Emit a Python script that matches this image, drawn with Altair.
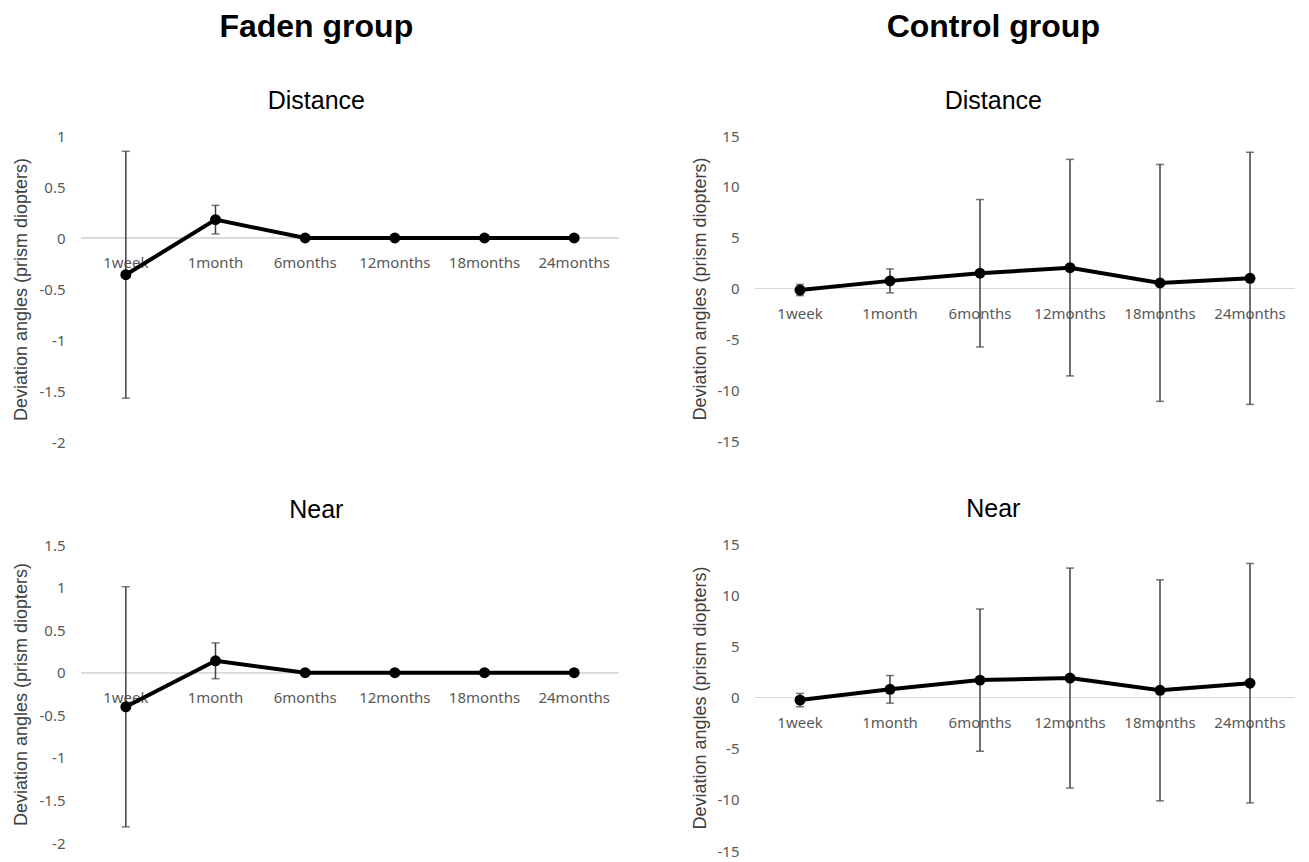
import altair as alt
import pandas as pd

times = ["1week", "1month", "6months", "12months", "18months", "24months"]

faden_dist_mean = [-0.36, 0.18, 0, 0, 0, 0]
faden_dist_sd = [1.21, 0.14, 0, 0, 0, 0]
faden_near_mean = [-0.40, 0.14, 0, 0, 0, 0]
faden_near_sd = [1.41, 0.21, 0, 0, 0, 0]
ctrl_dist_mean = [-0.15, 0.75, 1.5, 2.05, 0.55, 1.0]
ctrl_dist_sd = [0.55, 1.18, 7.25, 10.65, 11.65, 12.4]
ctrl_near_mean = [-0.25, 0.8, 1.7, 1.9, 0.7, 1.4]
ctrl_near_sd = [0.65, 1.35, 6.95, 10.75, 10.8, 11.7]

faden_dist_ticks = [1, 0.5, 0, -0.5, -1, -1.5, -2]
faden_near_ticks = [1.5, 1, 0.5, 0, -0.5, -1, -1.5, -2]
ctrl_ticks = [15, 10, 5, 0, -5, -10, -15]

YTITLE = "Deviation angles (prism diopters)"
TITLE_FONT = "Liberation Sans"
TICK_FONT = "Noto Sans"


def panel(title, mean, sd, ticks, w, h):
    df = pd.DataFrame({
        "time": times,
        "mean": mean,
        "sd": sd,
        "lo": [m - s for m, s in zip(mean, sd)],
        "hi": [m + s for m, s in zip(mean, sd)],
    })
    xs = alt.Scale(type="point", padding=0.5, domain=times)
    x = alt.X("time:N", sort=times, scale=xs, axis=None)
    ysc = alt.Scale(domain=[min(ticks), max(ticks)], nice=False, zero=False)
    yaxis = alt.Axis(
        values=ticks, grid=False, domain=False, ticks=False,
        labelExpr="'' + datum.value", labelFont=TICK_FONT, labelFontSize=15,
        labelColor="#595959", labelPadding=16, titleFont=TITLE_FONT,
        titleFontSize=18, titleFontWeight="normal", titleColor="#404040",
        titlePadding=8,
    )
    base = alt.Chart(df)
    zero = base.mark_rule(color="#d9d9d9", strokeWidth=1.2).encode(
        y=alt.Y(datum=0, type="quantitative", scale=ysc, axis=yaxis, title=YTITLE)
    )
    labels = base.mark_text(dy=25, fontSize=15, font=TICK_FONT, color="#595959").encode(
        x=x, y=alt.Y(datum=0, type="quantitative", title=YTITLE), text="time:N"
    )
    eb = base.transform_filter("datum.sd > 0")
    bars = eb.mark_rule(color="#404040", strokeWidth=1.5).encode(
        x=x, y=alt.Y("lo:Q", title=YTITLE), y2="hi:Q"
    )
    caps = eb.transform_fold(["lo", "hi"], as_=["k", "v"]).mark_tick(
        color="#404040", thickness=1.5, size=8, orient="horizontal"
    ).encode(x=x, y=alt.Y("v:Q", title=YTITLE))
    line = base.mark_line(color="black", strokeWidth=4).encode(
        x=x, y=alt.Y("mean:Q", title=YTITLE)
    )
    pts = base.mark_circle(color="black", size=120, opacity=1).encode(
        x=x, y=alt.Y("mean:Q", title=YTITLE)
    )
    return alt.layer(zero, labels, bars, caps, line, pts).properties(
        width=w, height=h,
        title=alt.TitleParams(title, font=TITLE_FONT, fontSize=25,
                              fontWeight="normal", color="black",
                              anchor="middle", frame="bounds", offset=15),
    )


def group_title(t):
    return alt.TitleParams(t, font=TITLE_FONT, fontSize=32, fontWeight="bold",
                           color="black", anchor="middle", offset=45)


faden = alt.vconcat(
    panel("Distance", faden_dist_mean, faden_dist_sd, faden_dist_ticks, 538, 306),
    panel("Near", faden_near_mean, faden_near_sd, faden_near_ticks, 538, 298),
    spacing=48,
).properties(title=group_title("Faden group"))

control = alt.vconcat(
    panel("Distance", ctrl_dist_mean, ctrl_dist_sd, ctrl_ticks, 540, 305),
    panel("Near", ctrl_near_mean, ctrl_near_sd, ctrl_ticks, 540, 307),
    spacing=48,
).properties(title=group_title("Control group"))

chart = alt.hconcat(faden, control, spacing=71).properties(
    padding={"left": 4, "top": 3, "right": 5, "bottom": 5}
).configure_view(stroke=None)

chart.save("out.html", embed_options={"renderer": "svg", "actions": False})
